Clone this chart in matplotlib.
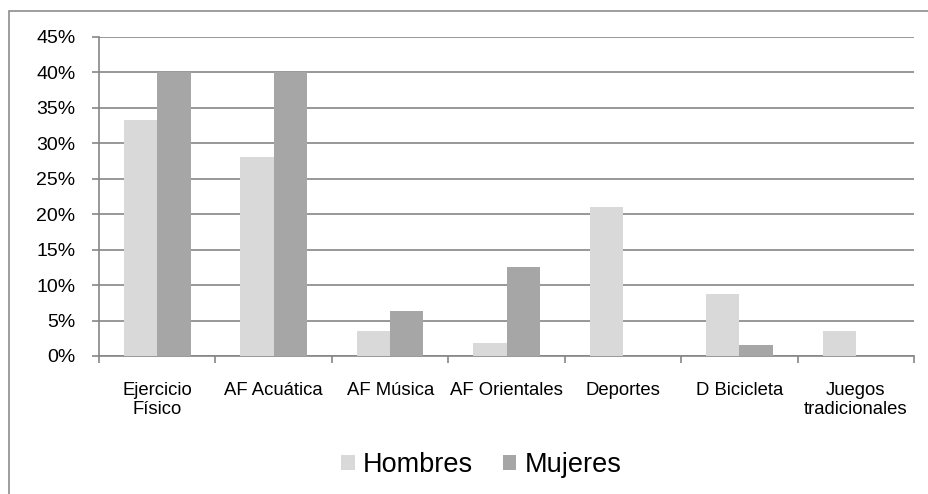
"""Actividad física por sexo: gráfico de barras agrupadas."""

import matplotlib

matplotlib.use("Agg")
import matplotlib.pyplot as plt
import numpy as np
from matplotlib.patches import Rectangle
from matplotlib.ticker import FuncFormatter

# %% Data
categories = [
    "Ejercicio\nFísico",
    "AF Acuática",
    "AF Música",
    "AF Orientales",
    "Deportes",
    "D Bicicleta",
    "Juegos\ntradicionales",
]
hombres = [33.2, 28.1, 3.5, 1.8, 21.0, 8.8, 3.5]
mujeres = [40.0, 40.0, 6.3, 12.6, 0.0, 1.6, 0.0]
series_names = ["Hombres", "Mujeres"]
yticks = [0, 5, 10, 15, 20, 25, 30, 35, 40, 45]

hombres_color = "#d9d9d9"
mujeres_color = "#a6a6a6"
line_color = "#868686"

plt.rcParams["font.family"] = ["Liberation Sans", "DejaVu Sans"]

# %% Figure
fig = plt.figure(figsize=(9.29, 4.94), dpi=100)
ax = fig.add_axes([0.1066, 0.2794, 0.8774, 0.6461])

x = np.arange(len(categories))
width = 0.286
ax.bar(x - width / 2, hombres, width, color=hombres_color, label=series_names[0], zorder=3)
ax.bar(x + width / 2, mujeres, width, color=mujeres_color, label=series_names[1], zorder=3)

# Axes and grid
ax.set_xlim(-0.5, len(categories) - 0.5)
ax.set_ylim(0, 45)
ax.set_yticks(yticks)
ax.yaxis.set_major_formatter(FuncFormatter(lambda v, _: f"{v:.0f}%"))
ax.grid(axis="y", color=line_color, linewidth=1.2, zorder=0)

ax.set_xticks(x)
ax.set_xticklabels(categories, fontsize=13.3, linespacing=1.12)
ax.set_xticks(np.arange(-0.5, len(categories)), minor=True)
ax.tick_params(axis="x", which="major", length=0, pad=19)
ax.tick_params(axis="x", which="minor", length=5, width=1.2, color=line_color)
ax.tick_params(axis="y", length=5, width=1.2, color=line_color, pad=12, labelsize=14)

for side in ["top", "right"]:
    ax.spines[side].set_visible(False)
for side in ["left", "bottom"]:
    ax.spines[side].set_color(line_color)
    ax.spines[side].set_linewidth(1.2)

# Legend
fig.legend(
    loc="center",
    bbox_to_anchor=(0.518, 0.059),
    ncol=2,
    frameon=False,
    fontsize=19.5,
    handlelength=0.5,
    handleheight=0.5,
    handletextpad=0.3,
    columnspacing=1.1,
)

# Outer chart border (only top and left visible)
fig.patches.append(
    Rectangle(
        (0.0097, -0.2),
        1.2,
        1.1777,
        transform=fig.transFigure,
        fill=False,
        edgecolor="#8c8c8c",
        linewidth=1.2,
    )
)

fig.savefig("out.png", dpi=100)
